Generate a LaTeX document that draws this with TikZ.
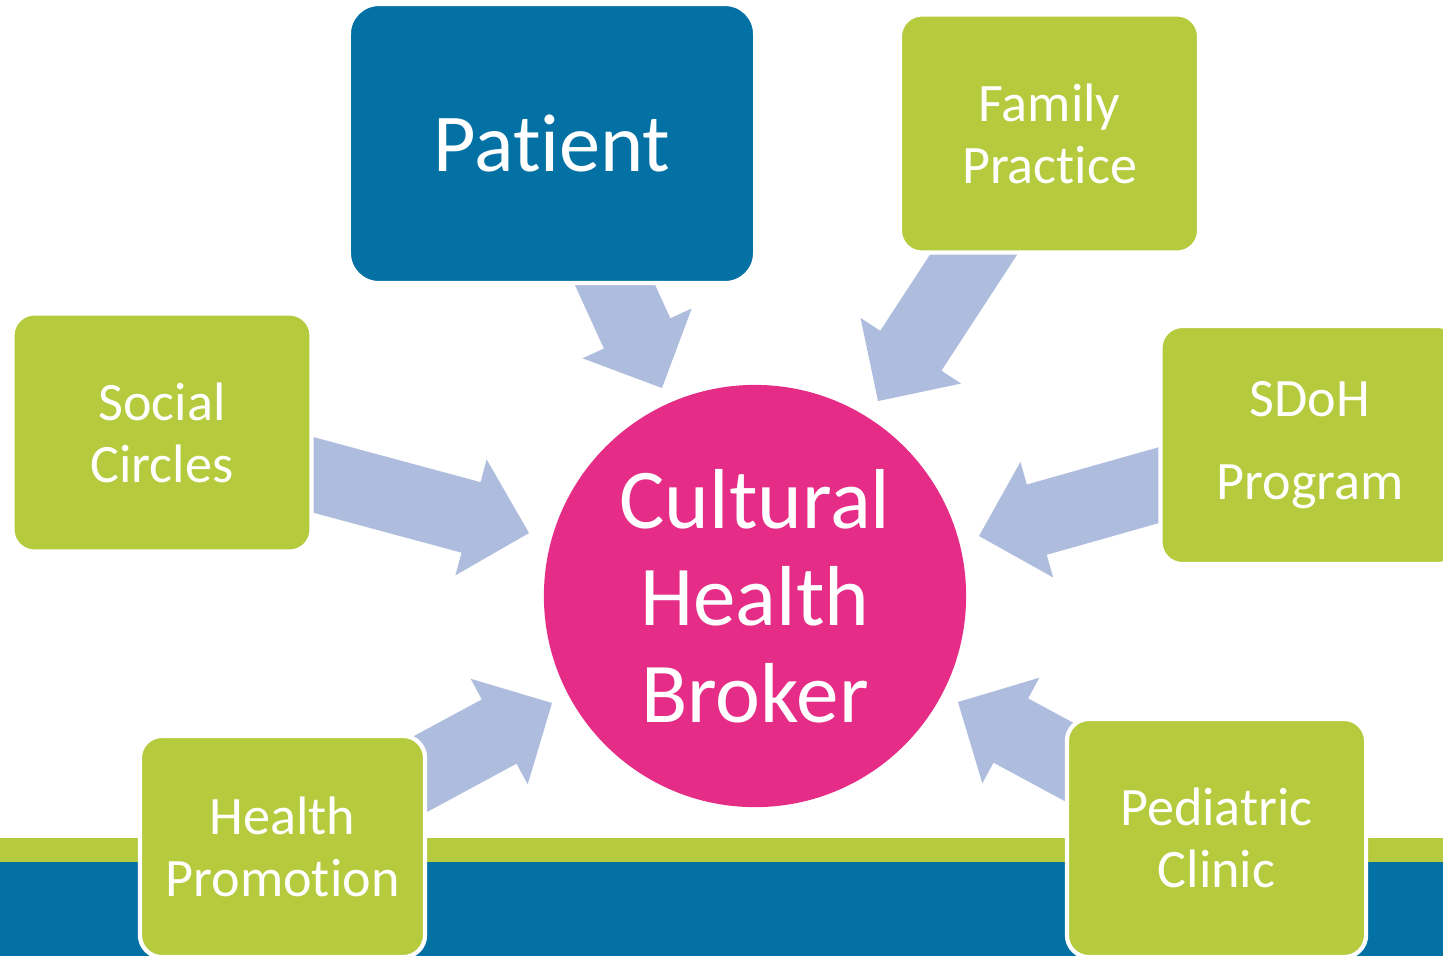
\documentclass[tikz,border=0pt]{standalone}
\usepackage{fontspec}
\setmainfont{Carlito}[Ligatures=NoCommon]
\usetikzlibrary{calc}
\definecolor{patblue}{RGB}{3,113,163}
\definecolor{boxgreen}{RGB}{181,202,60}
\definecolor{brokerpink}{RGB}{229,45,135}
\definecolor{arrowblue}{RGB}{174,188,222}

\begin{document}
\begin{tikzpicture}[x=0.01cm,y=-0.01cm]
    \tikzstyle{box}=[rectangle,draw=white,line width=1.2pt,inner sep=0pt,text=white,align=center]
    \tikzstyle{greenbox}=[box,fill=boxgreen,rounded corners=0.22cm,minimum width=2.99cm,minimum height=2.38cm,font=\fontsize{15.4}{17.6}\selectfont]
    \tikzstyle{bluebox}=[box,fill=patblue,rounded corners=0.3cm,minimum width=4.06cm,minimum height=2.79cm,font=\fontsize{23.4}{27}\selectfont]
    \tikzstyle{hub}=[circle,fill=brokerpink,inner sep=0pt,minimum size=4.22cm,text=white,align=center,font=\fontsize{24.2}{27.6}\selectfont]

    \useasboundingbox (0,0) rectangle (1443,956);
    \clip (0,0) rectangle (1443,956);

    % bottom band
    \fill[boxgreen] (0,838) rectangle (1443,862);
    \fill[patblue] (0,862) rectangle (1443,956);

    % block arrows: -s lies under the box, -t is the tip
    \foreach \name/\sx/\sy/\tx/\ty in {pat/579/206/662/388, fam/987/234/878/401, soc/288/468/529/533,
                                       sdoh/1191/476/979/536, hp/376/798/552/703, ped/1134/797/958/702}{
        \coordinate (\name-s) at (\sx,\sy);
        \coordinate (\name-t) at (\tx,\ty);
        \coordinate (\name-h) at ($(\name-t)!0.6cm!(\name-s)$);
        \fill[arrowblue] ($(\name-s)!0.365cm!90:(\name-t)$) -- ($(\name-h)!0.365cm!-90:(\name-s)$)
            -- ($(\name-h)!0.6cm!-90:(\name-s)$) -- (\name-t) -- ($(\name-h)!0.6cm!90:(\name-s)$)
            -- ($(\name-h)!0.365cm!90:(\name-s)$) -- ($(\name-s)!0.365cm!-90:(\name-t)$) -- cycle;
    }

    \node[bluebox] (patient) at (552,143.5) {Patient};
    \node[greenbox] (family) at (1049.5,133.5) {Family\\Practice};
    \node[greenbox] (social) at (162,432.5) {Social\\Circles};
    \node[greenbox] (program) at (1310,445) {SDoH\\[6pt]Program};
    \node[greenbox,minimum width=2.85cm,minimum height=2.21cm] (promo) at (282.5,846.5) {Health\\Promotion};
    \node[greenbox] (pediatric) at (1216.5,838) {Pediatric\\Clinic};

    \node[hub] (broker) at (755,596) {Cultural\\Health\\Broker};
\end{tikzpicture}
\end{document}
